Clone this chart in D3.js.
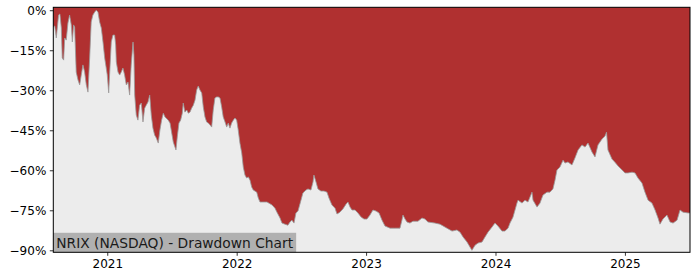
<!DOCTYPE html>
<html>
<head>
<meta charset="utf-8">
<script src="https://cdn.jsdelivr.net/npm/d3@7"></script>
<style>
  body { margin: 0; background: #fff; }
  svg { font-family: "DejaVu Sans", sans-serif; }
</style>
</head>
<body>
<div id="chart"></div>
<script>
// time as decimal years, drawdown in percent
var years = [
  2020.583, 2020.594, 2020.606, 2020.624, 2020.634, 2020.645, 2020.652, 2020.663, 2020.671, 2020.683,
  2020.696, 2020.709, 2020.722, 2020.730, 2020.740, 2020.748, 2020.760, 2020.774, 2020.787, 2020.799,
  2020.812, 2020.825, 2020.838, 2020.851, 2020.864, 2020.876, 2020.889, 2020.903, 2020.915, 2020.928,
  2020.941, 2020.954, 2020.967, 2020.980, 2020.992, 2021.000, 2021.011, 2021.019, 2021.031, 2021.044,
  2021.057, 2021.065, 2021.070, 2021.083, 2021.096, 2021.108, 2021.121, 2021.134, 2021.147, 2021.160,
  2021.173, 2021.185, 2021.199, 2021.206, 2021.212, 2021.224, 2021.237, 2021.250, 2021.263, 2021.276,
  2021.289, 2021.301, 2021.315, 2021.328, 2021.340, 2021.353, 2021.366, 2021.379, 2021.394, 2021.407,
  2021.420, 2021.433, 2021.446, 2021.471, 2021.485, 2021.498, 2021.510, 2021.523, 2021.531, 2021.541,
  2021.554, 2021.567, 2021.580, 2021.587, 2021.600, 2021.614, 2021.626, 2021.639, 2021.652, 2021.665,
  2021.678, 2021.691, 2021.703, 2021.716, 2021.730, 2021.742, 2021.755, 2021.768, 2021.781, 2021.794,
  2021.807, 2021.819, 2021.832, 2021.845, 2021.858, 2021.871, 2021.884, 2021.896, 2021.910, 2021.923,
  2021.935, 2021.948, 2021.961, 2021.974, 2021.987, 2022.000, 2022.012, 2022.025, 2022.039, 2022.051,
  2022.064, 2022.077, 2022.090, 2022.103, 2022.116, 2022.128, 2022.155, 2022.167, 2022.180, 2022.195,
  2022.234, 2022.273, 2022.296, 2022.311, 2022.335, 2022.350, 2022.373, 2022.396, 2022.412, 2022.427,
  2022.443, 2022.458, 2022.474, 2022.497, 2022.512, 2022.536, 2022.551, 2022.574, 2022.590, 2022.597,
  2022.613, 2022.628, 2022.651, 2022.675, 2022.698, 2022.713, 2022.736, 2022.760, 2022.775, 2022.798,
  2022.821, 2022.845, 2022.860, 2022.876, 2022.891, 2022.914, 2022.937, 2022.961, 2022.984, 2023.007,
  2023.030, 2023.053, 2023.077, 2023.100, 2023.123, 2023.146, 2023.185, 2023.223, 2023.262, 2023.277,
  2023.285, 2023.301, 2023.316, 2023.339, 2023.362, 2023.401, 2023.432, 2023.455, 2023.478, 2023.532,
  2023.571, 2023.625, 2023.664, 2023.702, 2023.726, 2023.749, 2023.780, 2023.803, 2023.818, 2023.842,
  2023.865, 2023.896, 2023.919, 2023.942, 2023.973, 2023.996, 2024.019, 2024.050, 2024.073, 2024.097,
  2024.112, 2024.135, 2024.166, 2024.174, 2024.205, 2024.228, 2024.251, 2024.282, 2024.290, 2024.321,
  2024.344, 2024.367, 2024.398, 2024.421, 2024.444, 2024.460, 2024.475, 2024.498, 2024.522, 2024.537,
  2024.560, 2024.591, 2024.614, 2024.638, 2024.668, 2024.692, 2024.715, 2024.746, 2024.769, 2024.792,
  2024.823, 2024.846, 2024.858, 2024.869, 2024.900, 2024.923, 2024.947, 2024.978, 2025.001, 2025.024,
  2025.055, 2025.078, 2025.101, 2025.132, 2025.155, 2025.179, 2025.209, 2025.233, 2025.256, 2025.271,
  2025.294, 2025.325, 2025.349, 2025.372, 2025.403, 2025.426, 2025.449, 2025.488, 2025.503
];
var drawdown = [
  -6.3, -5.9, -10.4, -1.8, -1.4, -6.7, -17.9, -18.7, -10.4, -11.2,
  -4.8, -1.8, -5.5, -11.9, -5.5, -6.3, -23.2, -26.2, -28.0, -24.3,
  -20.5, -23.2, -28.0, -30.7, -17.9, -4.4, -1.8, -0.7, 0, -0.7,
  -4.4, -6.7, -11.9, -17.9, -21.7, -24.3, -31.0, -23.2, -11.9, -9.3,
  -9.3, -13.0, -19.4, -23.2, -24.3, -23.2, -21.7, -24.3, -28.0, -26.9,
  -31.8, -20.5, -11.9, -16.8, -31.8, -39.3, -41.2, -35.6, -34.8, -41.9,
  -36.7, -35.6, -34.4, -31.8, -39.3, -44.2, -46.8, -47.9, -49.8, -44.9,
  -41.2, -38.6, -40.0, -41.2, -42.3, -46.0, -49.4, -51.3, -52.4, -47.5,
  -42.3, -41.2, -38.6, -34.8, -38.2, -37.4, -38.6, -38.2, -36.7, -35.6,
  -33.7, -29.9, -28.4, -29.9, -31.0, -36.3, -40.0, -41.9, -42.3, -43.0,
  -43.8, -37.4, -32.9, -32.5, -32.5, -32.9, -36.3, -40.0, -41.9, -43.8,
  -42.3, -44.2, -42.3, -41.2, -40.4, -41.2, -44.9, -49.8, -53.5, -58.8,
  -61.8, -62.9, -62.5, -63.7, -66.3, -67.4, -68.2, -70.4, -71.9, -71.9,
  -71.9, -73.0, -74.2, -75.7, -77.9, -79.8, -80.2, -80.6, -79.4, -78.7,
  -79.8, -76.0, -75.3, -71.2, -68.5, -67.4, -67.0, -67.4, -64.4, -61.8,
  -64.4, -67.0, -67.8, -67.8, -68.2, -70.4, -73.0, -74.2, -76.4, -75.7,
  -74.5, -72.7, -71.9, -73.8, -74.9, -74.9, -76.0, -77.5, -78.3, -78.3,
  -76.8, -74.9, -75.3, -76.0, -78.7, -80.9, -81.7, -81.7, -81.7, -78.7,
  -76.8, -78.3, -79.4, -79.8, -79.1, -79.1, -77.9, -78.3, -79.4, -79.8,
  -80.2, -81.7, -82.8, -82.4, -83.2, -85.0, -86.9, -88.8, -90.0, -88.1,
  -87.3, -86.9, -85.0, -83.2, -81.3, -79.8, -80.9, -82.8, -82.8, -81.7,
  -79.8, -77.6, -72.3, -71.2, -72.3, -71.2, -71.9, -68.2, -71.2, -73.8,
  -72.3, -69.3, -68.2, -68.2, -67.0, -63.7, -59.9, -58.8, -56.2, -57.3,
  -56.9, -58.0, -55.4, -52.4, -50.5, -51.3, -49.8, -53.2, -55.0, -50.5,
  -48.3, -47.2, -45.7, -52.4, -55.8, -57.0, -58.4, -59.9, -61.0, -61.0,
  -60.7, -61.0, -62.9, -64.8, -68.2, -71.2, -72.3, -74.9, -77.9, -80.2,
  -78.3, -76.8, -79.4, -79.8, -78.7, -74.9, -75.7, -76.0, -76.0
];
var yTicks = [0, -15, -30, -45, -60, -75, -90];
var xTicks = [2021, 2022, 2023, 2024, 2025];
var title = "NRIX (NASDAQ) - Drawdown Chart";

var margin = { top: 7.3, left: 53.3, bottom: 27.7, right: 10 };
var width = 700 - margin.left - margin.right;
var height = 280 - margin.top - margin.bottom;

var data = years.map(function(t, i) { return { t: t, v: drawdown[i] }; });

var svg = d3.select("#chart").append("svg")
    .attr("width", 700)
    .attr("height", 280)
    .append("g")
    .attr("transform", "translate(" + margin.left + "," + margin.top + ")");

var x = d3.scaleLinear()
    .domain([2020.583, 2025.503])
    .range([0, width]);

var y = d3.scaleLinear()
    .domain([-90.75, 1.1])
    .range([height, 0]);

// light background, red drawdown area hanging from the top
svg.append("rect")
    .attr("width", width)
    .attr("height", height)
    .attr("fill", "#ececec");

var area = d3.area()
    .x(function(d) { return x(d.t); })
    .y0(y(1.1))
    .y1(function(d) { return y(d.v); });

svg.append("path")
    .datum(data)
    .attr("d", area)
    .attr("fill", "#b03030");

svg.append("path")
    .datum(data)
    .attr("d", d3.line().x(function(d) { return x(d.t); }).y(function(d) { return y(d.v); }))
    .attr("fill", "none")
    .attr("stroke", "#9a9a9a")
    .attr("stroke-width", 0.8);

// title box in the bottom-left corner
var label = svg.append("g");
var labelBg = label.append("rect")
    .attr("x", 0)
    .attr("y", height - 19.5)
    .attr("height", 19.5)
    .attr("fill", "#b0b0b0");
var labelText = label.append("text")
    .attr("x", 3)
    .attr("y", height - 4.5)
    .attr("font-size", "13.8px")
    .attr("fill", "#1a1a1a")
    .text(title);
labelBg.attr("width", labelText.node().getComputedTextLength() + 6);

// axes
var xAxis = svg.append("g")
    .attr("transform", "translate(0," + height + ")")
    .call(d3.axisBottom(x).tickValues(xTicks).tickFormat(d3.format("d")).tickSize(3.5).tickPadding(3.5));

var yAxis = svg.append("g")
    .call(d3.axisLeft(y).tickValues(yTicks).tickFormat(function(d) { return d3.format("d")(d) + "%"; }).tickSize(3.5).tickPadding(3.5));

[xAxis, yAxis].forEach(function(a) {
    a.select(".domain").remove();
    a.selectAll("text").attr("font-size", "12px").attr("font-family", "DejaVu Sans").attr("fill", "#000");
    a.selectAll("line").attr("stroke", "#000").attr("stroke-width", 0.8);
});

// frame
svg.append("rect")
    .attr("width", width)
    .attr("height", height)
    .attr("fill", "none")
    .attr("stroke", "#000")
    .attr("stroke-width", 1);
</script>
</body>
</html>
